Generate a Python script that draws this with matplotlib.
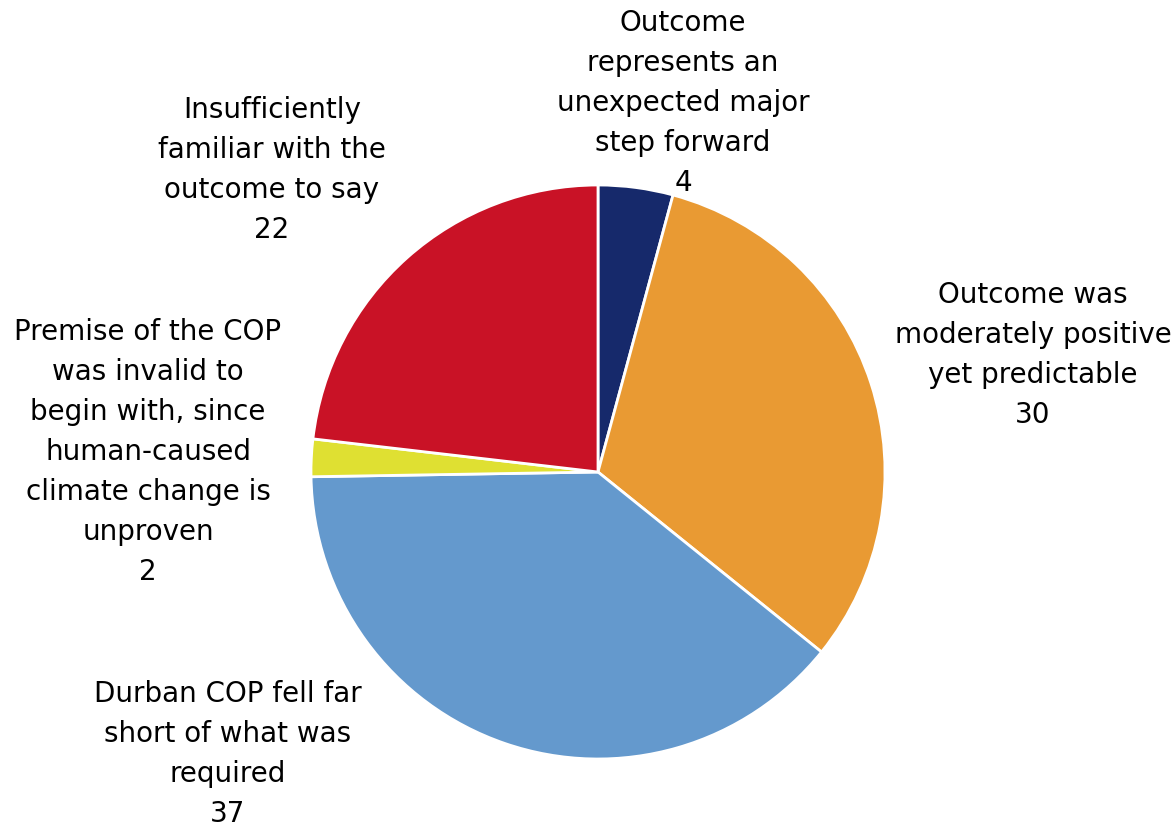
import matplotlib
matplotlib.use("Agg")
import matplotlib.pyplot as plt

# Survey responses on the Durban COP outcome
labels = [
    "Outcome\nrepresents an\nunexpected major\nstep forward",
    "Outcome was\nmoderately positive\nyet predictable",
    "Durban COP fell far\nshort of what was\nrequired",
    "Premise of the COP\nwas invalid to\nbegin with, since\nhuman-caused\nclimate change is\nunproven",
    "Insufficiently\nfamiliar with the\noutcome to say",
]
values = [4, 30, 37, 2, 22]
colors = ["#16296B", "#E99A33", "#6499CD", "#DFE032", "#C91226"]

W, H = 1175, 827
fig = plt.figure(figsize=(W / 100, H / 100), dpi=100)
ax = fig.add_axes([0, 0, 1, 1])

cx, cy, r = 598, H - 472, 287
ax.pie(values, colors=colors, startangle=90, counterclock=False,
       center=(cx, cy), radius=r, frame=True,
       wedgeprops=dict(edgecolor="white", linewidth=2))
ax.set_xlim(0, W)
ax.set_ylim(0, H)
ax.set_aspect("equal")
ax.axis("off")

# label block centres (x, y from top)
label_pos = [(683, 103), (1033, 355), (228, 754), (148, 452), (272, 170)]
for lab, v, (x, y) in zip(labels, values, label_pos):
    ax.text(x, H - y, f"{lab}\n{v}", ha="center", va="center",
            multialignment="center", fontsize=20, linespacing=1.54,
            family="DejaVu Sans", color="black")

fig.savefig("out.png", dpi=100)
